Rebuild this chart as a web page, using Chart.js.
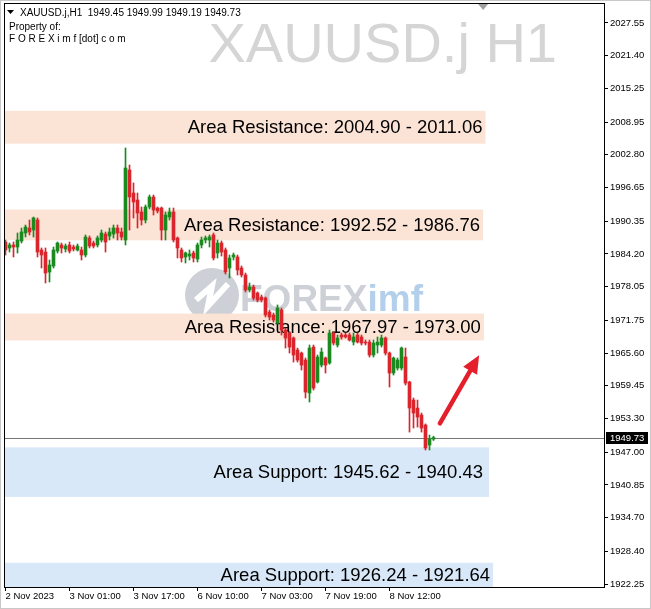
<!DOCTYPE html>
<html lang="en">
<head>
  <meta charset="UTF-8">
  <title>XAUUSD.j H1</title>
  <script src="https://cdn.jsdelivr.net/npm/chart.js"></script>
  <style>
    body { margin: 0; background: #fff; }
    canvas { display: block; }
  </style>
</head>
<body>
  <canvas id="chart" width="651" height="609"></canvas>

  <script>
    const symbol = 'XAUUSD.j';
    const period = 'H1';

    // hourly candles, 2 Nov 2023 -> 8 Nov 2023
    const opens = [1986.44, 1985.32, 1985.88, 1985.50, 1986.63, 1988.13, 1989.07, 1988.69, 1990.57, 1984.94,
      1984.56, 1980.81, 1981.94, 1984.75, 1985.88, 1985.13, 1985.88, 1985.50, 1984.94, 1984.94,
      1984.00, 1987.19, 1986.25, 1985.88, 1986.82, 1987.94, 1987.57, 1987.94, 1989.07, 1988.32,
      1986.82, 1999.96, 1995.64, 1994.33, 1992.07, 1990.57, 1993.01, 1994.89, 1992.82, 1992.82,
      1988.69, 1991.13, 1992.07, 1987.19, 1984.94, 1983.63, 1983.81, 1984.38, 1983.25, 1985.88,
      1986.82, 1986.82, 1987.76, 1984.38, 1986.25, 1984.94, 1981.56, 1983.63, 1983.63, 1981.56,
      1980.25, 1977.43, 1977.99, 1976.87, 1976.12, 1975.93, 1973.30, 1972.74, 1971.23, 1973.68,
      1969.92, 1969.36, 1968.42, 1966.17, 1965.60, 1964.29, 1958.10, 1966.73, 1960.16, 1963.35,
      1964.67, 1963.73, 1969.36, 1967.11, 1968.98, 1968.98, 1968.98, 1967.67, 1968.98, 1968.61,
      1967.67, 1967.67, 1965.23, 1967.11, 1967.11, 1968.42, 1965.60, 1961.85, 1962.79, 1962.79,
      1964.85, 1960.16, 1956.78, 1955.28, 1953.97, 1952.09, 1948.33, 1949.45];
    const highs = [1986.82, 1986.25, 1986.44, 1988.13, 1989.07, 1989.63, 1990.57, 1991.13, 1990.95, 1985.32,
      1985.32, 1983.06, 1985.50, 1986.44, 1986.25, 1986.07, 1986.44, 1985.88, 1986.07, 1985.50,
      1987.76, 1987.57, 1986.63, 1987.57, 1988.69, 1988.32, 1989.07, 1989.63, 1989.63, 1989.07,
      2004.09, 2000.90, 1997.52, 1995.64, 1993.01, 1993.39, 1995.26, 1995.26, 1993.01, 1993.01,
      1992.07, 1992.82, 1992.82, 1987.38, 1985.32, 1984.56, 1984.94, 1984.75, 1986.25, 1987.38,
      1987.57, 1987.76, 1988.13, 1986.82, 1986.63, 1985.32, 1984.00, 1984.38, 1984.00, 1981.94,
      1980.62, 1978.75, 1978.37, 1977.06, 1976.49, 1976.12, 1973.68, 1973.11, 1974.62, 1974.05,
      1970.30, 1969.55, 1968.61, 1966.54, 1965.79, 1964.67, 1967.11, 1967.11, 1965.23, 1966.54,
      1964.85, 1969.92, 1969.55, 1968.98, 1969.36, 1969.36, 1969.36, 1969.36, 1969.36, 1968.98,
      1968.05, 1968.05, 1968.05, 1968.61, 1968.98, 1968.61, 1965.79, 1964.85, 1964.67, 1966.73,
      1966.54, 1960.30, 1957.16, 1956.78, 1954.34, 1952.30, 1950.21, 1949.99];
    const lows = [1984.00, 1984.56, 1983.63, 1984.38, 1986.25, 1987.38, 1987.76, 1987.38, 1983.63, 1981.56,
      1978.75, 1978.93, 1981.56, 1984.38, 1984.38, 1984.56, 1984.38, 1984.75, 1984.75, 1983.06,
      1983.63, 1985.32, 1985.32, 1985.50, 1986.44, 1984.56, 1986.82, 1987.19, 1986.82, 1986.82,
      1985.88, 1988.69, 1990.95, 1989.07, 1989.63, 1990.01, 1992.64, 1991.51, 1991.89, 1986.82,
      1986.82, 1990.57, 1986.44, 1983.44, 1982.69, 1982.50, 1983.06, 1982.69, 1982.69, 1985.32,
      1986.25, 1985.50, 1983.06, 1983.44, 1983.81, 1980.43, 1979.68, 1983.06, 1980.25, 1979.87,
      1977.06, 1977.06, 1975.55, 1975.18, 1975.18, 1972.36, 1971.80, 1971.42, 1971.05, 1968.98,
      1966.54, 1965.60, 1963.91, 1963.91, 1962.41, 1957.16, 1956.41, 1958.66, 1959.97, 1962.98,
      1961.85, 1963.50, 1967.11, 1966.73, 1968.20, 1968.42, 1967.86, 1967.11, 1967.48, 1967.11,
      1967.11, 1964.85, 1964.85, 1965.60, 1966.73, 1965.23, 1959.22, 1961.47, 1962.41, 1962.41,
      1959.60, 1950.77, 1951.53, 1951.71, 1950.77, 1947.40, 1947.40, 1949.19];
    const closes = [1984.94, 1985.88, 1985.50, 1986.82, 1988.32, 1989.26, 1988.32, 1990.95, 1984.56, 1984.00,
      1980.62, 1982.12, 1984.94, 1986.25, 1985.32, 1985.69, 1984.75, 1985.13, 1985.69, 1984.00,
      1987.38, 1985.69, 1985.69, 1987.19, 1988.13, 1986.44, 1988.32, 1989.07, 1988.13, 1987.38,
      2000.33, 1994.89, 1993.95, 1991.89, 1990.57, 1993.01, 1994.89, 1992.45, 1992.26, 1988.69,
      1991.51, 1992.07, 1986.82, 1985.32, 1983.44, 1984.38, 1984.19, 1983.44, 1985.88, 1986.82,
      1987.19, 1987.38, 1983.44, 1986.25, 1984.56, 1980.81, 1983.44, 1984.00, 1981.19, 1980.25,
      1977.43, 1977.99, 1975.93, 1975.55, 1975.55, 1972.74, 1972.36, 1971.80, 1974.05, 1969.92,
      1968.42, 1966.73, 1965.23, 1964.29, 1963.35, 1958.28, 1966.54, 1959.03, 1964.85, 1965.79,
      1963.35, 1969.36, 1967.48, 1968.42, 1968.61, 1968.61, 1968.05, 1968.61, 1967.67, 1967.48,
      1967.48, 1965.23, 1967.48, 1967.67, 1968.42, 1965.60, 1961.85, 1964.67, 1964.29, 1966.54,
      1959.97, 1955.28, 1954.34, 1953.59, 1951.53, 1947.77, 1949.45, 1949.73];

    // time axis labels (bar index -> text)
    const tickIdx = [0, 16, 32, 48, 64, 80, 96];
    const tickText = ['2 Nov 2023', '3 Nov 01:00', '3 Nov 17:00', '6 Nov 10:00', '7 Nov 03:00', '7 Nov 19:00', '8 Nov 12:00'];

    // price axis labels
    const yTicks = [2027.55, 2021.40, 2015.25, 2008.95, 2002.80, 1996.65, 1990.35, 1984.20, 1978.05,
      1971.75, 1965.60, 1959.45, 1953.30, 1947.00, 1940.85, 1934.70, 1928.40, 1922.25];

    // support / resistance zones
    const bandKind = ['R', 'R', 'R', 'S', 'S'];
    const bandHigh = [2011.06, 1992.52, 1973.00, 1947.90, 1926.24];
    const bandLow = [2004.90, 1986.76, 1967.97, 1938.60, 1921.64];
    const bandEnd = [120, 119.4, 119.6, 120.9, 121.9];
    const bandText = ['Area Resistance: 2004.90 - 2011.06', 'Area Resistance: 1992.52 - 1986.76',
      'Area Resistance: 1967.97 - 1973.00', 'Area Support: 1945.62 - 1940.43', 'Area Support: 1926.24 - 1921.64'];

    // red arrow (bar index, price)
    const arrowFrom = [108.6, 1952.4];
    const arrowTo = [118.4, 1965.2];
    const shiftIdx = 119.4;

    const last = closes.length - 1;
    const UP = '#1a8a1f', DOWN = '#d9252b';
    const colors = closes.map((c, i) => c >= opens[i] ? UP : DOWN);

    Chart.defaults.font.family = '"Liberation Sans", Arial, sans-serif';
    Chart.defaults.font.size = 9.5;
    Chart.defaults.color = '#000';

    const overlay = {
      id: 'overlay',
      beforeDatasetsDraw(chart) {
        const { ctx, chartArea: a, scales: { x, y } } = chart;
        ctx.save();
        ctx.beginPath();
        ctx.rect(a.left, a.top, a.right - a.left, a.bottom - a.top);
        ctx.clip();

        // symbol watermark
        ctx.fillStyle = '#d5d5d5';
        ctx.font = '56px "Liberation Sans"';
        ctx.textAlign = 'right';
        ctx.textBaseline = 'alphabetic';
        ctx.fillText(symbol + ' ' + period, a.right - 47, 62);

        // logo watermark
        ctx.fillStyle = '#cdd0d7';
        ctx.beginPath();
        ctx.arc(212, 295, 27, 0, Math.PI * 2);
        ctx.fill();
        ctx.strokeStyle = '#fff';
        ctx.lineWidth = 6;
        ctx.beginPath();
        ctx.moveTo(196, 300); ctx.lineTo(212, 286); ctx.lineTo(208, 306); ctx.lineTo(228, 284);
        ctx.stroke();
        ctx.textAlign = 'left';
        ctx.font = 'bold 37px "Liberation Sans"';
        ctx.fillText('FOREX', 240, 311);
        const w = ctx.measureText('FOREX').width;
        ctx.fillStyle = '#b3cfec';
        ctx.fillText('imf', 240 + w, 311);

        // zones
        bandHigh.forEach((hi, k) => {
          const top = y.getPixelForValue(hi);
          const bot = y.getPixelForValue(bandLow[k]);
          const r = x.getPixelForValue(bandEnd[k]);
          ctx.fillStyle = bandKind[k] === 'R' ? '#fbe3d6' : '#d8e8f8';
          ctx.fillRect(a.left, top, r - a.left, bot - top);
          ctx.fillStyle = '#000';
          ctx.font = '18.5px "Liberation Sans"';
          ctx.textAlign = 'right';
          ctx.textBaseline = 'middle';
          ctx.fillText(bandText[k], r - (bandKind[k] === 'S' && k === 3 ? 6 : 3),
            Math.min((top + bot) / 2, a.bottom - 12) + 1);
        });

        // last price line
        const py = Math.round(y.getPixelForValue(closes[last])) + 0.5;
        ctx.strokeStyle = '#777';
        ctx.lineWidth = 1;
        ctx.beginPath();
        ctx.moveTo(a.left, py); ctx.lineTo(a.right, py);
        ctx.stroke();
        ctx.restore();
      },
      afterDatasetsDraw(chart) {
        const { ctx, scales: { x, y } } = chart;
        const x0 = x.getPixelForValue(arrowFrom[0]), y0 = y.getPixelForValue(arrowFrom[1]);
        const x1 = x.getPixelForValue(arrowTo[0]), y1 = y.getPixelForValue(arrowTo[1]);
        const ang = Math.atan2(y1 - y0, x1 - x0);
        const hl = 18, hw = 8;
        const bx = x1 - hl * Math.cos(ang), by = y1 - hl * Math.sin(ang);
        ctx.save();
        ctx.strokeStyle = '#e41e2b';
        ctx.fillStyle = '#e41e2b';
        ctx.lineWidth = 4.5;
        ctx.lineCap = 'round';
        ctx.beginPath();
        ctx.moveTo(x0, y0); ctx.lineTo(bx, by);
        ctx.stroke();
        ctx.beginPath();
        ctx.moveTo(x1, y1);
        ctx.lineTo(bx + hw * Math.sin(ang), by - hw * Math.cos(ang));
        ctx.lineTo(bx - hw * Math.sin(ang), by + hw * Math.cos(ang));
        ctx.closePath();
        ctx.fill();
        ctx.restore();
      },
      afterDraw(chart) {
        const { ctx, chartArea: a, scales: { x, y } } = chart;
        ctx.save();
        // frame
        ctx.strokeStyle = '#000';
        ctx.lineWidth = 1;
        ctx.strokeRect(a.left + 0.5, a.top + 0.5, a.right - a.left, a.bottom - a.top);
        ctx.strokeStyle = '#c8c8c8';
        ctx.strokeRect(0.5, 0.5, chart.width - 1, chart.height - 1);

        // shift marker
        const sx = x.getPixelForValue(shiftIdx);
        ctx.fillStyle = '#a0a0a0';
        ctx.beginPath();
        ctx.moveTo(sx - 5, a.top + 1); ctx.lineTo(sx + 5, a.top + 1); ctx.lineTo(sx, a.top + 7);
        ctx.closePath();
        ctx.fill();

        // header
        ctx.fillStyle = '#000';
        ctx.beginPath();
        ctx.moveTo(7, 10); ctx.lineTo(14, 10); ctx.lineTo(10.5, 14);
        ctx.closePath();
        ctx.fill();
        ctx.font = '10px "Liberation Sans"';
        ctx.textAlign = 'left';
        ctx.textBaseline = 'alphabetic';
        ctx.fillText(symbol + ',' + period + '  ' + opens[last].toFixed(2) + ' ' + highs[last].toFixed(2) + ' ' +
          lows[last].toFixed(2) + ' ' + closes[last].toFixed(2), 20, 16);
        ctx.fillText('Property of:', 9, 30);
        ctx.fillText('F O R E X i m f [dot] c o m', 9, 42);

        // last price tag
        const py = Math.round(y.getPixelForValue(closes[last]));
        ctx.fillStyle = '#000';
        ctx.fillRect(a.right + 2, py - 6, 42, 12);
        ctx.fillStyle = '#fff';
        ctx.font = '9.5px "Liberation Sans"';
        ctx.textBaseline = 'middle';
        ctx.fillText(closes[last].toFixed(2), a.right + 6, py + 0.5);
        ctx.restore();
      }
    };

    const idx = closes.map((_, i) => i);

    new Chart(document.getElementById('chart'), {
      type: 'bar',
      data: {
        datasets: [
          {
            label: 'body',
            data: idx.map(i => ({ x: i, y: [opens[i], closes[i]] })),
            backgroundColor: colors,
            borderWidth: 0,
            barThickness: 3,
            minBarLength: 1,
            grouped: false
          },
          {
            label: 'wick',
            data: idx.map(i => ({ x: i, y: [lows[i], highs[i]] })),
            backgroundColor: colors,
            borderWidth: 0,
            barThickness: 1,
            grouped: false
          }
        ]
      },
      options: {
        responsive: false,
        animation: false,
        layout: { padding: { left: 4, top: 3, right: 0, bottom: 0 } },
        plugins: { legend: { display: false }, tooltip: { enabled: false } },
        scales: {
          x: {
            type: 'linear', min: -0.375, max: 149.625, offset: false,
            afterBuildTicks: s => { s.ticks = tickIdx.map(v => ({ value: v })); },
            afterFit: s => { s.height = 22; s.paddingLeft = 0; s.paddingRight = 0; },
            ticks: {
              align: 'start', padding: 0, maxRotation: 0, autoSkip: false,
              callback: v => tickText[tickIdx.indexOf(v)]
            },
            grid: { drawOnChartArea: false, offset: false, tickLength: 4, color: '#000' },
            border: { color: '#000' }
          },
          y: {
            position: 'right', min: 1921.69, max: 2031.30,
            afterBuildTicks: s => { s.ticks = yTicks.map(v => ({ value: v })); },
            afterFit: s => { s.width = 47; s.paddingTop = 0; s.paddingBottom = 0; },
            ticks: { padding: 2, autoSkip: false, callback: v => v.toFixed(2) },
            grid: { drawOnChartArea: false, tickLength: 4, color: '#000' },
            border: { color: '#000' }
          }
        }
      },
      plugins: [overlay]
    });
  </script>
</body>
</html>
